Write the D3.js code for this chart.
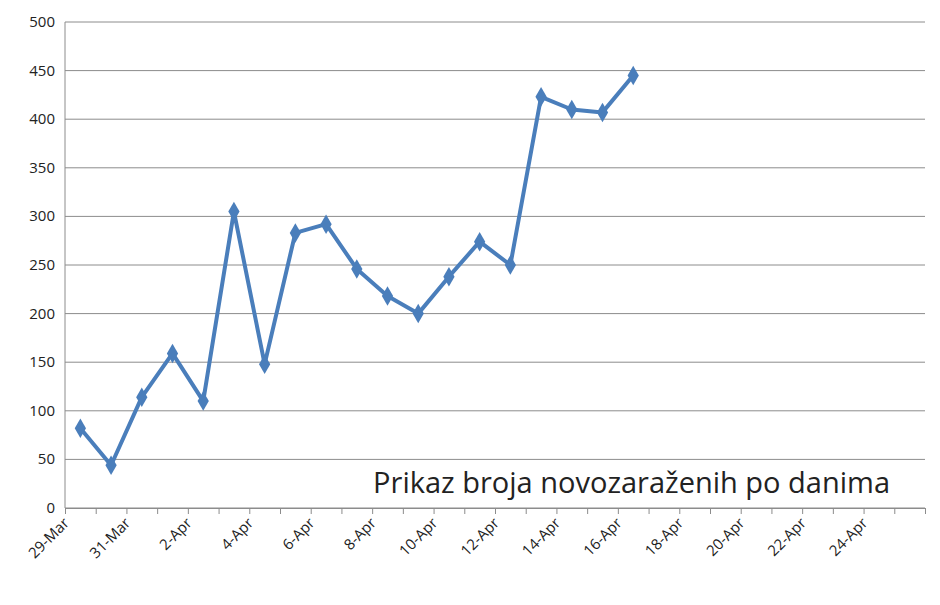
<!DOCTYPE html>
<html><head><meta charset="utf-8">
<script src="https://cdn.jsdelivr.net/npm/d3@7"></script>
<style>body{margin:0;background:#fff}text{font-family:"Open Sans","Liberation Sans",sans-serif}</style>
</head><body>
<svg id="c" width="940" height="605"></svg>
<script>
// daily values, starting 29-Mar 2020
var startDate = new Date(2020, 2, 29);
var values = [82, 44, 114, 159, 110, 305, 148, 283, 292, 246, 218, 200, 238, 274, 250, 423, 410, 407, 445];
var yTicks = [0, 50, 100, 150, 200, 250, 300, 350, 400, 450, 500];
var nDays = 28;
var title = "Prikaz broja novozaraženih po danima";

var svg = d3.select("#c");
var mLeft = 65, mRight = 925, mTop = 22, mBottom = 508;
var day = function(i){ return d3.timeDay.offset(startDate, i); };

var x = d3.scaleTime().domain([startDate, day(nDays)]).range([mLeft, mRight]);
var y = d3.scaleLinear().domain([0, 500]).range([mBottom, mTop]);

// gridlines
svg.append("g").selectAll("line").data(yTicks).join("line")
  .attr("x1", mLeft).attr("x2", mRight)
  .attr("y1", d => y(d)).attr("y2", d => y(d))
  .attr("stroke", "#8c8c8c").attr("stroke-width", 1);

// y axis
svg.append("line").attr("x1", mLeft).attr("x2", mLeft).attr("y1", mTop).attr("y2", mBottom).attr("stroke", "#8c8c8c");
svg.append("g").selectAll("text").data(yTicks).join("text")
  .attr("x", mLeft - 10).attr("y", d => y(d) + 5)
  .attr("text-anchor", "end").attr("font-size", 15).attr("fill", "#222")
  .text(d => d);

// x axis
var fmt = d3.timeFormat("%-d-%b");
var xAxis = svg.append("g").attr("transform", "translate(0," + mBottom + ")")
  .call(d3.axisBottom(x).tickValues(d3.range(0, nDays + 1).map(day)).tickSize(6).tickFormat(""));
xAxis.select(".domain").attr("stroke", "#8c8c8c");
xAxis.selectAll(".tick line").attr("stroke", "#8c8c8c");

svg.append("g").selectAll("text").data(d3.range(0, nDays, 2).map(day)).join("text")
  .attr("transform", d => "translate(" + (x(d) + 5) + "," + (mBottom + 16) + ") rotate(-45)")
  .attr("text-anchor", "end").attr("font-size", 15).attr("fill", "#222")
  .text(fmt);

// series, points centered in each day
var px = function(d, i){ return x(day(i)) + (x(day(1)) - x(day(0))) / 2; };
svg.append("path").datum(values)
  .attr("d", d3.line().x(px).y(d => y(d)))
  .attr("fill", "none").attr("stroke", "#4a7ebb").attr("stroke-width", 4).attr("stroke-linejoin", "round");

svg.append("g").selectAll("path").data(values).join("path")
  .attr("d", d3.symbol(d3.symbolDiamond, 110))
  .attr("transform", (d, i) => "translate(" + px(d, i) + "," + y(d) + ")")
  .attr("fill", "#4a7ebb");

svg.append("text").attr("x", 890).attr("y", 493).attr("text-anchor", "end")
  .attr("font-size", 29).attr("fill", "#222").text(title);
</script>
</body></html>
